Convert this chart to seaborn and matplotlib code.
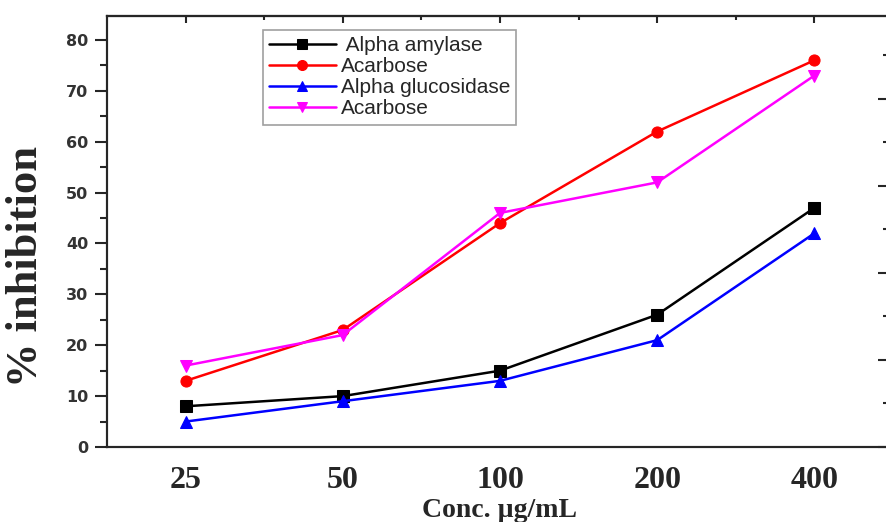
import matplotlib
matplotlib.use("Agg")
import matplotlib.pyplot as plt
import seaborn as sns
import numpy as np
import pandas as pd
from matplotlib.ticker import MultipleLocator, FixedLocator

concentrations = ["25", "50", "100", "200", "400"]
alpha_amylase = [8, 10, 15, 26, 47]
acarbose_amylase = [13, 23, 44, 62, 76]
alpha_glucosidase = [5, 9, 13, 21, 42]
acarbose_glucosidase = [16, 22, 46, 52, 73]

series_labels = [" Alpha amylase", "Acarbose", "Alpha glucosidase", "Acarbose"]
series_values = [alpha_amylase, acarbose_amylase, alpha_glucosidase, acarbose_glucosidase]
colors = ["#000000", "#FF0000", "#0000FF", "#FF00FF"]
markers = ["s", "o", "^", "v"]

sns.set_style("white")
plt.rcParams["font.family"] = ["Liberation Sans", "DejaVu Sans"]

fig = plt.figure(figsize=(8.87, 5.22), dpi=100)
ax = fig.add_axes([107 / 887, 75 / 522, 786 / 887, 431 / 522])

pos = np.arange(len(concentrations))
for lab, vals, c, m in zip(series_labels, series_values, colors, markers):
    df = pd.DataFrame({"x": pos, "y": vals})
    sns.lineplot(data=df, x="x", y="y", ax=ax, color=c, marker=m, markersize=8,
                 markeredgecolor=c, linewidth=1.8, label=lab)

ax.set_xlim(-0.5, 4.5)
ax.set_ylim(0, 84.7)
ax.set_xticks(pos)
ax.set_xticklabels(concentrations, fontfamily="Liberation Serif", fontweight="bold",
                   fontsize=23)
ax.xaxis.set_minor_locator(FixedLocator(pos[:-1] + 0.5))
ax.set_yticks(np.arange(0, 81, 10))
ax.yaxis.set_minor_locator(MultipleLocator(5))
for t in ax.get_yticklabels():
    t.set_fontfamily("DejaVu Sans")
    t.set_fontweight("bold")
    t.set_fontsize(11.5)
    t.set_color("#333333")

ax.tick_params(axis="y", which="major", direction="out", length=8.5, width=1.5, pad=5)
ax.tick_params(axis="y", which="minor", direction="out", length=5, width=1.5)
ax.tick_params(axis="x", which="major", direction="out", length=4.5, width=1.5, pad=9)
ax.tick_params(axis="x", which="minor", direction="out", length=2.5, width=1.5)

for s in ax.spines.values():
    s.set_visible(True)
    s.set_linewidth(1.5)
    s.set_color("black")

# top mirrored ticks (inward)
top = ax.secondary_xaxis("top")
top.set_xticks(pos)
top.xaxis.set_minor_locator(FixedLocator(pos[:-1] + 0.5))
top.set_xticklabels([])
top.tick_params(which="major", direction="in", length=5, width=1.5)
top.tick_params(which="minor", direction="in", length=3, width=1.5)
top.spines["top"].set_linewidth(1.5)

# right axis ticks (inward)
rax = ax.twinx()
rax.set_ylim(0, 84.7 / 17.1)
rax.yaxis.set_major_locator(MultipleLocator(1))
rax.yaxis.set_minor_locator(MultipleLocator(0.5))
rax.set_yticklabels([])
rax.tick_params(which="major", direction="in", length=10.5, width=1.5)
rax.tick_params(which="minor", direction="in", length=7.5, width=1.5)
for s in rax.spines.values():
    s.set_linewidth(1.5)

ax.set_xlabel("Conc. µg/mL", fontfamily="Liberation Serif", fontweight="bold",
              fontsize=20, labelpad=2)
ax.set_ylabel("% inhibition", fontfamily="Liberation Serif", fontweight="bold",
              fontsize=32)
ax.yaxis.set_label_coords(-0.078, 0.418)

leg = ax.legend(loc="upper left", bbox_to_anchor=(0.198, 0.968), borderaxespad=0,
                fontsize=15, handlelength=3.2, handletextpad=0.25,
                labelspacing=0.1, frameon=True, fancybox=False,
                edgecolor="#888888", borderpad=0.3, markerscale=0.9)
leg.get_frame().set_linewidth(1.2)

fig.savefig("out.png", dpi=100)
